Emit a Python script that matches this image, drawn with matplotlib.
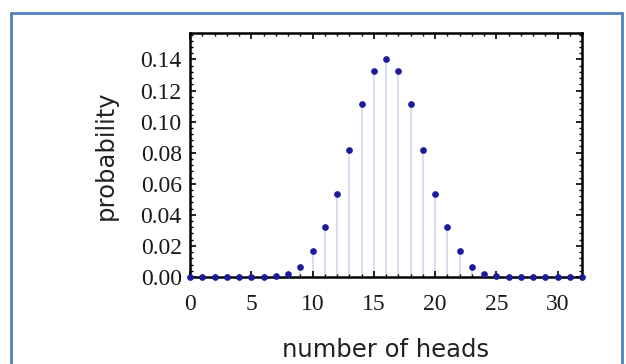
import matplotlib
matplotlib.use("Agg")
import matplotlib.pyplot as plt
from matplotlib.patches import Rectangle
from matplotlib.ticker import MultipleLocator

# number of heads out of 32 tosses and the probability
heads = list(range(0, 33))
probability = [0.0, 0.0, 0.0, 0.0, 0.0, 0.0, 0.0001, 0.0005, 0.0019,
               0.0067, 0.0165, 0.0321, 0.0531, 0.0820, 0.1112, 0.1325,
               0.1400,
               0.1325, 0.1112, 0.0820, 0.0531, 0.0321, 0.0165, 0.0067,
               0.0019, 0.0005, 0.0001, 0.0, 0.0, 0.0, 0.0, 0.0, 0.0]
xticks = [0, 5, 10, 15, 20, 25, 30]
yticks = [0.00, 0.02, 0.04, 0.06, 0.08, 0.10, 0.12, 0.14]

fig = plt.figure(figsize=(6.26, 3.64), dpi=100)
fig.patch.set_facecolor("white")

# blue frame round the picture
fig.patches.append(Rectangle((10.5 / 626, -0.1), 611 / 626, 1.1 - 12.5 / 364,
                             transform=fig.transFigure, fill=False,
                             edgecolor="#4f81bd", linewidth=2.0))

ax = fig.add_axes([190 / 626, 87 / 364, 392 / 626, 244 / 364])

ax.vlines(heads, 0, probability, colors="#d4d4f2", linewidth=1.2, zorder=1)
ax.plot(heads, probability, "o", color="#1a1a9a", markersize=3.8, zorder=3,
        clip_on=False)

ax.set_xlim(0, 32)
ax.set_ylim(0, 0.157)
ax.set_xticks(xticks)
ax.set_yticks(yticks)
ax.set_yticklabels([f"{v:.2f}" for v in yticks])
ax.xaxis.set_minor_locator(MultipleLocator(1))
ax.yaxis.set_minor_locator(MultipleLocator(0.004))

serif = "Liberation Serif"
for lab in ax.get_xticklabels() + ax.get_yticklabels():
    lab.set_fontfamily(serif)
    lab.set_fontsize(17)
    lab.set_color("#1a1a1a")

ax.tick_params(which="both", direction="in", top=True, right=True,
               color="black")
ax.tick_params(which="major", length=4, width=1.2)
ax.tick_params(axis="x", which="major", pad=12)
ax.tick_params(axis="y", which="major", pad=6)
ax.tick_params(which="minor", length=2.2, width=1.0)
for s in ax.spines.values():
    s.set_linewidth(1.8)

ax.set_ylabel("probability", fontsize=17.5, color="#222222", labelpad=16)
ax.set_xlabel("number of heads", fontsize=17.5, color="#222222", labelpad=17)

fig.savefig("out.png", dpi=100)
